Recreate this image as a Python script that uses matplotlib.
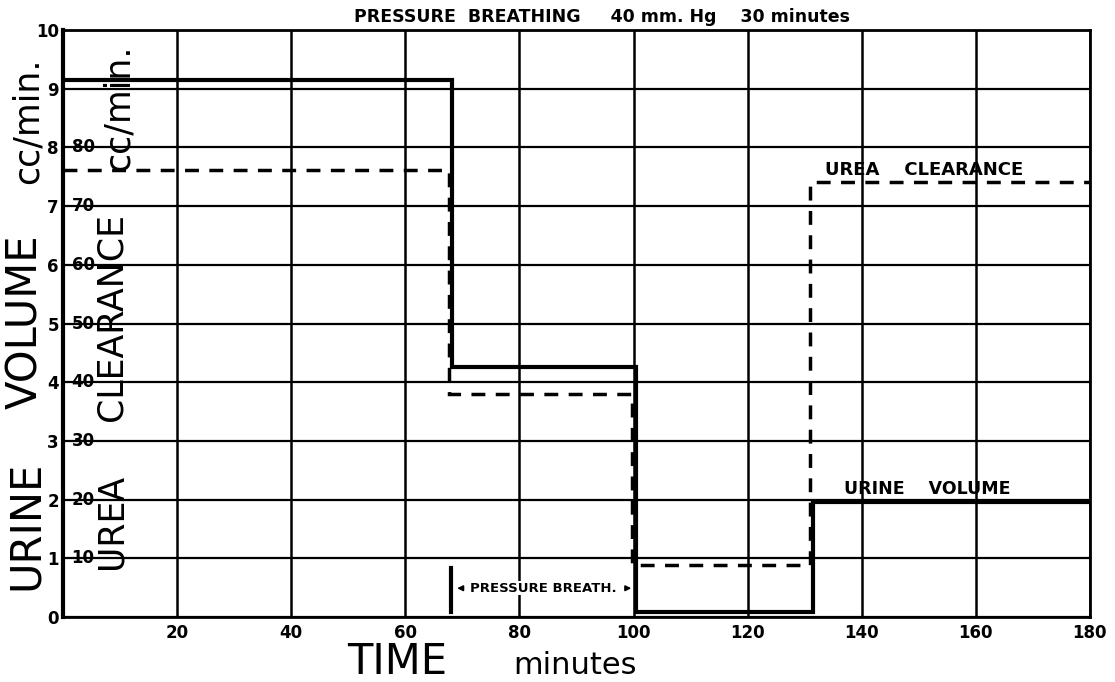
import matplotlib.pyplot as plt
import numpy as np

# step edges (minutes) and levels
vol_edges = [0, 68.2, 100.4, 131.4, 180]
vol_values = [9.15, 4.26, 0.08, 1.96]          # urine volume, cc/min
urea_edges = [0, 67.7, 99.7, 130.9, 180]
urea_values = [76.2, 38.0, 8.9, 74.1]          # urea clearance, cc/min

x_ticks = [20, 40, 60, 80, 100, 120, 140, 160, 180]
y_ticks = list(range(0, 11))
urea_ticks = [10, 20, 30, 40, 50, 60, 70, 80]

fig = plt.figure(figsize=(11.15, 6.82), dpi=100)
ax = fig.add_axes([0.0565, 0.0953, 0.921, 0.8607])

ax.set_xlim(0, 180)
ax.set_ylim(0, 10)
for x in x_ticks:
    ax.axvline(x, color="black", lw=1.8, zorder=1)
for y in y_ticks:
    ax.axhline(y, color="black", lw=1.6, zorder=1)
for s in ax.spines.values():
    s.set_linewidth(2)
ax.spines["left"].set_linewidth(3)

# urine volume (solid)
ax.stairs(vol_values, vol_edges, baseline=None, color="black", lw=3, zorder=3)
# urea clearance (dashed), plotted on volume scale / 10
ax.stairs(np.array(urea_values) / 10, urea_edges, baseline=None, color="black",
          lw=2.5, linestyle=(0, (4, 3)), zorder=3)

ax.set_xticks(x_ticks)
ax.set_xticklabels([str(x) for x in x_ticks], fontsize=12, fontweight="bold")
ax.set_yticks(y_ticks)
ax.set_yticklabels([str(y) for y in y_ticks], fontsize=12, fontweight="bold")
ax.tick_params(length=0, pad=3)
ax.tick_params(axis="x", pad=5)

for v in urea_ticks:
    ax.text(1.5, v / 10, str(v), fontsize=12, fontweight="bold",
            va="center", ha="left", zorder=4)

# axis labels (left, big)
fig.text(0.023, 1 - 525 / 682, "URINE", rotation=90, fontsize=30,
         va="center", ha="center")
fig.text(0.023, 1 - 322 / 682, "VOLUME", rotation=90, fontsize=30,
         va="center", ha="center")
fig.text(0.025, 1 - 121 / 682, "cc/min.", rotation=90, fontsize=25,
         va="center", ha="center")
# second label, urea clearance
fig.text(0.100, 1 - 521 / 682, "UREA", rotation=90, fontsize=25,
         va="center", ha="center")
fig.text(0.100, 1 - 317 / 682, "CLEARANCE", rotation=90, fontsize=25,
         va="center", ha="center")
fig.text(0.106, 1 - 108 / 682, "cc/min.", rotation=90, fontsize=25,
         va="center", ha="center")

fig.text(397 / 1115, 0.011, "TIME", fontsize=30, va="baseline", ha="center")
fig.text(575 / 1115, 0.011, "minutes", fontsize=22, va="baseline", ha="center")

fig.text(0.54, 0.975, "PRESSURE  BREATHING     40 mm. Hg    30 minutes",
         fontsize=12.5, fontweight="bold", va="center", ha="center")

# series labels
ax.text(151, 7.62, "UREA    CLEARANCE", fontsize=13, fontweight="bold",
        ha="center", va="center")
ax.text(151.5, 2.18, "URINE    VOLUME", fontsize=12.5, fontweight="bold",
        ha="center", va="center")

# pressure breathing marker
ax.plot([68, 68], [0.08, 0.83], color="black", lw=3, zorder=4)
ax.annotate("", xy=(68.6, 0.49), xytext=(70.6, 0.49),
            arrowprops=dict(arrowstyle="-|>", lw=1.2, color="black",
                            mutation_scale=8))
ax.annotate("", xy=(100.1, 0.49), xytext=(98.3, 0.49),
            arrowprops=dict(arrowstyle="-|>", lw=1.2, color="black",
                            mutation_scale=8))
ax.text(84.2, 0.49, "PRESSURE BREATH.", fontsize=9.5, fontweight="bold",
        ha="center", va="center",
        bbox=dict(facecolor="white", edgecolor="none", pad=0.5), zorder=5)

fig.savefig("out.png", dpi=100)
